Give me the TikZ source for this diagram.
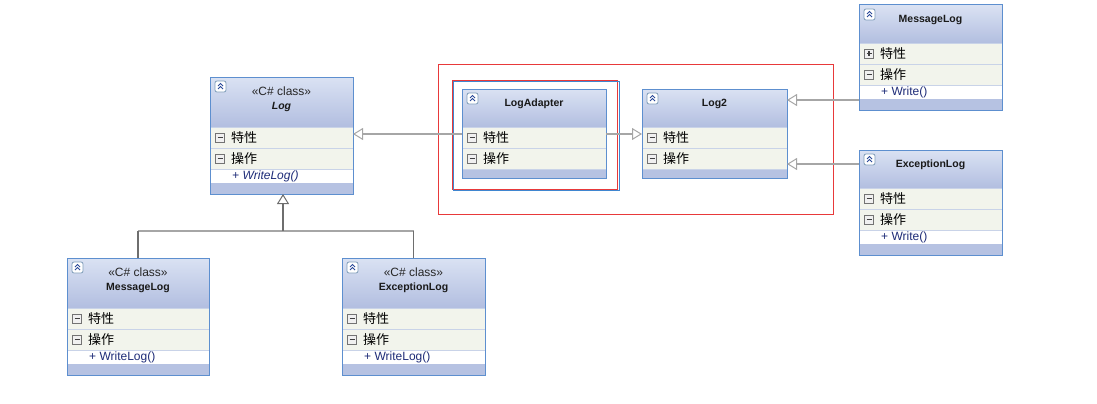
\documentclass[tikz,border=0pt]{standalone}
\usepackage{fontspec}
\setmainfont{Liberation Sans}
\newfontfamily\cjk{Noto Sans CJK SC}
\usetikzlibrary{arrows.meta}
\definecolor{hdtop}{HTML}{DAE2F3}
\definecolor{hdbot}{HTML}{B2BEE0}
\definecolor{rowbg}{HTML}{F2F4EC}
\definecolor{rowsep}{HTML}{C9D3E8}
\definecolor{footbg}{HTML}{B6C2E2}
\definecolor{bordc}{HTML}{5D8FCF}
\definecolor{methc}{HTML}{1E2C78}
\definecolor{iconbd}{HTML}{7F9DB9}
\definecolor{chevc}{HTML}{2B4A9A}
\definecolor{linec}{HTML}{A6A6A6}
\definecolor{darkl}{HTML}{6E6E6E}
\definecolor{redf}{HTML}{E8393A}
\definecolor{bluef}{HTML}{3F86D0}
\tikzset{
  classframe/.style={draw=bordc, line width=1pt, rectangle, inner sep=0pt, outer sep=0pt, fill=none},
  rowtext/.style={anchor=west, inner sep=0pt, font=\cjk\fontsize{13}{15}\selectfont},
  methtext/.style={anchor=west, inner sep=0pt, text=methc, font=\fontsize{12}{14}\selectfont},
  stereotext/.style={inner sep=0pt, font=\fontsize{12}{14}\selectfont, text=black!85},
  nametext/.style={inner sep=0pt, font=\bfseries\fontsize{10.5}{12}\selectfont, text=black!90},
  inh/.style={draw=linec, line width=1.5pt, -{Triangle[length=10pt,width=12pt,fill=white,line width=1pt]}},
  conn/.style={draw=linec, line width=1.4pt},
  connd/.style={draw=darkl, line width=1.1pt},
}
\newcommand\collapseicon[2]{%
  \draw[draw=iconbd, fill=white, rounded corners=2pt, line width=0.8pt] (#1,#2) rectangle (#1+11,#2+11);
  \draw[chevc, line width=0.9pt] (#1+3,#2+5) -- (#1+5.5,#2+2.5) -- (#1+8,#2+5);
  \draw[chevc, line width=0.9pt] (#1+3,#2+8) -- (#1+5.5,#2+5.5) -- (#1+8,#2+8);
}
\newcommand\iconminus[2]{%
  \draw[draw=black!55, fill=black!6, line width=0.6pt] (#1-4.5,#2-4.5) rectangle (#1+4.5,#2+4.5);
  \draw[black!75, line width=1.1pt] (#1-2.5,#2) -- (#1+2.5,#2);
}
\newcommand\iconplus[2]{%
  \iconminus{#1}{#2}%
  \draw[black!75, line width=1.1pt] (#1,#2-2.5) -- (#1,#2+2.5);
}
% #1 name, #2 left, #3 top, #4 width, #5 stereotype (or empty), #6 title, #7 row1 icon, #8 method
\newcommand\classbox[8]{%
  \def\cbst{#5}\def\cbmeth{#8}%
  \ifx\cbst\empty\def\cbHd{38}\else\def\cbHd{50}\fi
  \ifx\cbmeth\empty\def\cbM{0}\def\cbF{9}\else\def\cbM{14}\def\cbF{11}\fi
  \pgfmathsetmacro\cbH{\cbHd+42+\cbM+\cbF}%
  \shade[top color=hdtop, bottom color=hdbot] (#2,#3) rectangle (#2+#4,#3+\cbHd);
  \fill[rowbg] (#2,#3+\cbHd) rectangle (#2+#4,#3+\cbHd+42);
  \fill[white] (#2,#3+\cbHd+42) rectangle (#2+#4,#3+\cbHd+42+\cbM);
  \fill[footbg] (#2,#3+\cbHd+42+\cbM) rectangle (#2+#4,#3+\cbH);
  \draw[rowsep, line width=0.8pt] (#2,#3+\cbHd) -- (#2+#4,#3+\cbHd);
  \draw[rowsep, line width=0.8pt] (#2,#3+\cbHd+21) -- (#2+#4,#3+\cbHd+21);
  \draw[rowsep, line width=0.6pt] (#2,#3+\cbHd+42) -- (#2+#4,#3+\cbHd+42);
  \node[classframe, minimum width=#4 pt, minimum height=\cbH pt, anchor=north west] (#1) at (#2,#3) {};
  \collapseicon{#2+5}{#3+4}
  \ifx\cbst\empty
    \node[nametext] (#1-t) at (#2+#4/2,#3+15) {#6};
  \else
    \node[stereotext] (#1-s) at (#2+#4/2,#3+14) {#5};
    \node[nametext] (#1-t) at (#2+#4/2,#3+30) {#6};
  \fi
  #7{#2+10}{#3+\cbHd+10.5}
  \iconminus{#2+10}{#3+\cbHd+31.5}
  \node[rowtext] (#1-a) at (#2+21,#3+\cbHd+10.5) {特性};
  \node[rowtext] (#1-o) at (#2+21,#3+\cbHd+31.5) {操作};
  \ifx\cbmeth\empty\else
    \node[methtext] (#1-m) at (#2+22,#3+\cbHd+42+\cbM/2+0.5) {#8};
  \fi
}
\begin{document}
\begin{tikzpicture}[x=1pt,y=-1pt]
\useasboundingbox (0,0) rectangle (1097,404);
% frames
\draw[redf, line width=1pt] (438,65) rectangle (833,214);
\draw[redf, line width=1pt] (452,80) rectangle (617,189);
\draw[bluef, line width=1pt] (453,81) rectangle (619,190);
% classes
\classbox{log}{210}{77}{143}{«C\# class»}{\textit{Log}}{\iconminus}{\textit{+ WriteLog()}}
\classbox{la}{462}{89}{144}{}{LogAdapter}{\iconminus}{}
\classbox{log2}{642}{89}{145}{}{Log2}{\iconminus}{}
\classbox{msgR}{859}{5}{143}{}{MessageLog}{\iconplus}{+ Write()}
\classbox{excR}{859}{150}{143}{}{ExceptionLog}{\iconminus}{+ Write()}
\classbox{msgB}{67}{258}{142}{«C\# class»}{MessageLog}{\iconminus}{+ WriteLog()}
\classbox{excB}{342}{258}{143}{«C\# class»}{ExceptionLog}{\iconminus}{+ WriteLog()}
% connectors
\draw[inh] (la.west |- 0,134) -- (log.east |- 0,134);
\draw[inh] (la.east |- 0,134) -- (log2.west |- 0,134);
\draw[inh] (msgR.west |- 0,100) -- (log2.east |- 0,100);
\draw[inh] (excR.west |- 0,164) -- (log2.east |- 0,164);
\coordinate (j) at ([xshift=1.5pt]log.south |- 0,231);
\draw[conn] (msgB.north |- j) -- (excB.north |- j);
\draw[connd] (msgB.north) -- (msgB.north |- j);
\draw[connd] (excB.north) -- (excB.north |- j);
\draw[inh, draw=darkl] (j) -- ([xshift=1.5pt]log.south);
\end{tikzpicture}
\end{document}
